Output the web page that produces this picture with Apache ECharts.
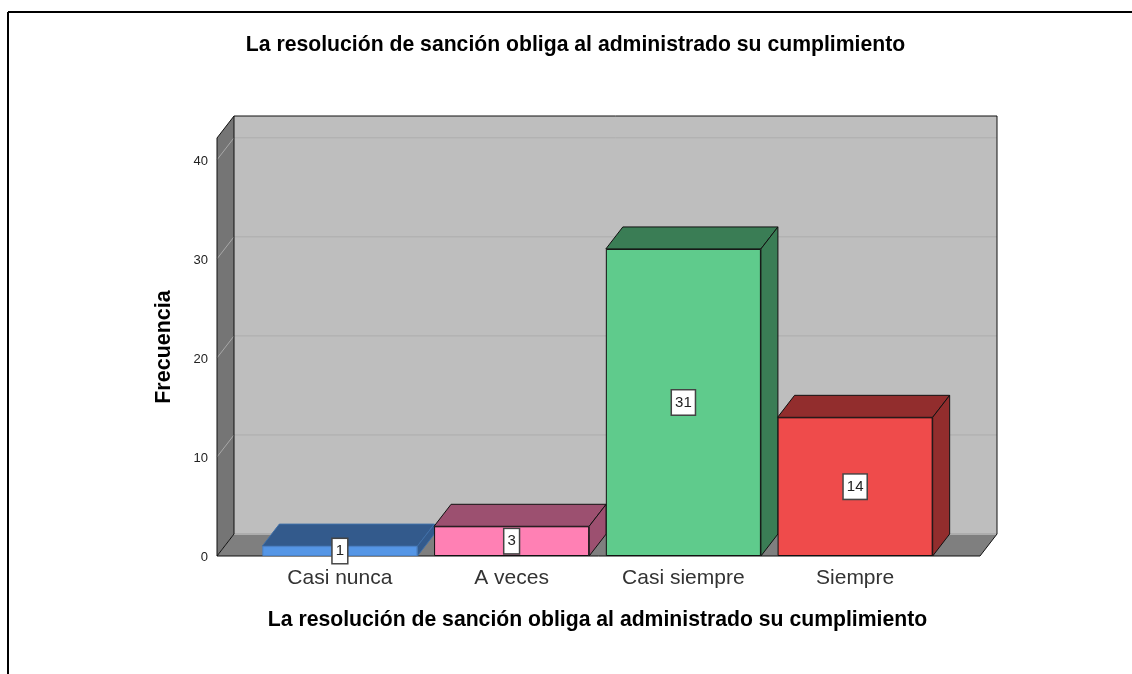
<!DOCTYPE html>
<html>
<head>
<meta charset="utf-8">
<style>
  html, body { margin: 0; padding: 0; background: #fff; }
  #chart { width: 1132px; height: 674px; }
</style>
<script src="https://cdn.jsdelivr.net/npm/echarts@6/dist/echarts.min.js"></script>
</head>
<body>
<div id="chart"></div>
<script>
const categories = ['Casi nunca', 'A veces', 'Casi siempre', 'Siempre'];
const frecuencia = [1, 3, 31, 14];
const yTicks = [0, 10, 20, 30, 40];
const titulo = 'La resolución de sanción obliga al administrado su cumplimiento';

const FRONT_COLORS = ['#5596E6', '#FF80B4', '#5FCB8C', '#EF4B4B'];
const TOP_COLORS = ['#335A8C', '#9C5070', '#3A7D55', '#922D2D'];
const FONT = '"Liberation Sans", Arial, sans-serif';

// profundidad del efecto 3D
const DX = 17;
const DY = 22;
// distancia del suelo a la primera/ultima categoria
const PAD_LEFT = 37;
const PAD_RIGHT = 39;

const chart = echarts.init(document.getElementById('chart'));

function poly(points, fill, stroke, width) {
  return {
    type: 'polygon',
    shape: { points: points },
    style: { fill: fill, stroke: stroke || null, lineWidth: width || 1 },
  };
}

function line(x1, y1, x2, y2, color, width) {
  return {
    type: 'line',
    shape: { x1: x1, y1: y1, x2: x2, y2: y2 },
    style: { stroke: color, lineWidth: width || 1, fill: null },
  };
}

// paredes y suelo
function renderWalls(params, api) {
  const c = params.coordSys;
  const left = c.x - PAD_LEFT;
  const right = c.x + c.width + PAD_RIGHT;
  const top = c.y;
  const bottom = c.y + c.height;
  const children = [
    poly([[left + DX, top - DY], [right + DX, top - DY], [right + DX, bottom - DY], [left + DX, bottom - DY]], '#BEBEBE'),
    poly([[left, top], [left + DX, top - DY], [left + DX, bottom - DY], [left, bottom]], '#757575'),
    poly([[left, bottom], [left + DX, bottom - DY], [right + DX, bottom - DY], [right, bottom]], '#7F7F7F'),
  ];
  yTicks.forEach(function (t) {
    const y = api.coord([0, t])[1];
    if (t > 0) {
      children.push(line(left, y, left + DX, y - DY, '#A8A8A8'));
    }
    children.push(line(left + DX, y - DY, right + DX, y - DY, '#ADADAD', t === 0 ? 2 : 1));
  });
  children.push(
    poly([[left, top], [left + DX, top - DY], [left + DX, bottom - DY], [left, bottom]], null, '#111'),
    line(left + DX, top - DY, right + DX, top - DY, '#111'),
    line(right + DX, top - DY, right + DX, bottom - DY, '#111'),
    line(right + DX, bottom - DY, right, bottom, '#111'),
    line(left, bottom, right, bottom, '#111')
  );
  return { type: 'group', children: children };
}

// cara superior y lateral de cada barra
function renderDepth(params, api) {
  const i = params.dataIndex;
  const p = api.coord([i, api.value(1)]);
  const base = api.coord([i, 0]);
  const w = api.size([1, 0])[0] * 0.903;
  const x0 = p[0] - w / 2;
  const x1 = p[0] + w / 2;
  const stroke = i === 0 ? '#3F6FA8' : '#111';
  return {
    type: 'group',
    children: [
      poly([[x0, p[1]], [x0 + DX, p[1] - DY], [x1 + DX, p[1] - DY], [x1, p[1]]], TOP_COLORS[i], stroke),
      poly([[x1, p[1]], [x1 + DX, p[1] - DY], [x1 + DX, base[1] - DY], [x1, base[1]]], TOP_COLORS[i], stroke),
    ],
  };
}

const option = {
  backgroundColor: '#fff',
  animation: false,
  title: {
    text: titulo,
    left: 570.5,
    top: 30,
    textAlign: 'center',
    textStyle: { fontFamily: FONT, fontSize: 21.2, fontWeight: 'bold', color: '#000' },
  },
  grid: { left: 254, top: 138, width: 687, height: 418 },
  xAxis: {
    type: 'category',
    data: categories,
    name: titulo,
    nameLocation: 'middle',
    nameGap: 54,
    nameTextStyle: { fontFamily: FONT, fontSize: 21.2, fontWeight: 'bold', color: '#000' },
    axisLine: { show: false },
    axisTick: { show: false },
    axisLabel: { fontFamily: FONT, fontSize: 21, color: '#333', margin: 12 },
  },
  yAxis: {
    type: 'value',
    min: 0,
    max: 42.2,
    interval: 10,
    offset: 37,
    name: 'Frecuencia',
    nameLocation: 'middle',
    nameGap: 42,
    nameTextStyle: { fontFamily: FONT, fontSize: 21.5, fontWeight: 'bold', color: '#000' },
    axisLine: { show: false },
    axisTick: { show: false },
    splitLine: { show: false },
    axisLabel: {
      margin: 9,
      showMaxLabel: false,
      formatter: '{t|{value}}',
      rich: { t: { fontFamily: FONT, fontSize: 13, color: '#222', padding: [3, 0, 0, 0] } },
    },
  },
  graphic: [
    { type: 'line', shape: { x1: 8, y1: 12, x2: 1132, y2: 12 }, style: { stroke: '#000', lineWidth: 2 } },
    { type: 'line', shape: { x1: 8, y1: 12, x2: 8, y2: 674 }, style: { stroke: '#000', lineWidth: 2 } },
  ],
  series: [
    {
      type: 'custom',
      z: 1,
      silent: true,
      clip: false,
      data: [[0, 0]],
      renderItem: renderWalls,
    },
    {
      type: 'custom',
      z: 2,
      silent: true,
      clip: false,
      data: frecuencia.map(function (v, i) { return [i, v]; }),
      renderItem: renderDepth,
    },
    {
      type: 'bar',
      z: 3,
      barWidth: '90.3%',
      data: frecuencia.map(function (v, i) {
        return {
          value: v,
          itemStyle: {
            color: FRONT_COLORS[i],
            borderColor: i === 0 ? '#4A82C8' : '#111',
            borderWidth: 1,
          },
        };
      }),
      label: {
        show: true,
        position: 'inside',
        fontFamily: FONT,
        fontSize: 15,
        color: '#222',
        backgroundColor: '#fff',
        borderColor: '#444',
        borderWidth: 1.5,
        padding: [5, 3, 4, 3],
      },
    },
  ],
};

chart.setOption(option);
</script>
</body>
</html>
